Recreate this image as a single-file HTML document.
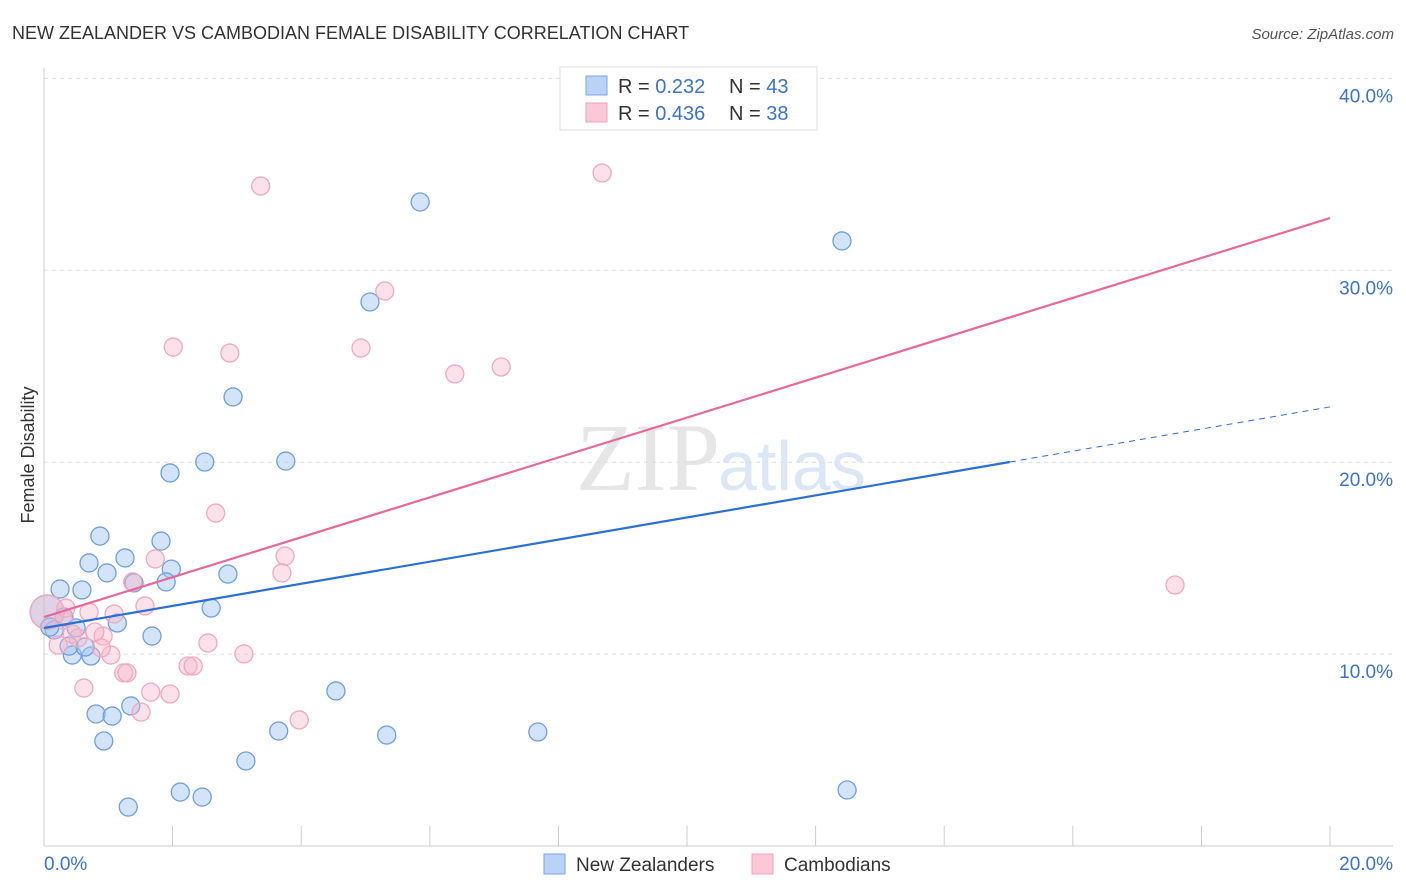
<!DOCTYPE html>
<html><head><meta charset="utf-8"><style>
body{margin:0;background:#fff;font-family:"Liberation Sans",sans-serif;}
svg{display:block}
</style></head><body>
<svg id="chart" width="1406" height="892" xmlns="http://www.w3.org/2000/svg">
<text x="12" y="39" font-size="18" fill="#333">NEW ZEALANDER VS CAMBODIAN FEMALE DISABILITY CORRELATION CHART</text>
<text x="1394" y="39" font-size="15" fill="#555" font-style="italic" text-anchor="end">Source: ZipAtlas.com</text>
<text x="720" y="490" font-size="96" fill="#e6e6e6" text-anchor="end" font-family="Liberation Serif">ZIP</text>
<text x="718" y="490" font-size="70" fill="#dce7f5">atlas</text>
<g id="grid"></g>
<g id="axes"></g>
<g id="points"></g>
<g id="trends"></g>
<text transform="translate(34,455) rotate(-90)" font-size="18" fill="#333" text-anchor="middle">Female Disability</text>
<g>
<rect x="560" y="67" width="257" height="63" fill="#fff" stroke="#ddd"/>
<rect x="586" y="76" width="21" height="19" fill="#b9d2f5" stroke="#7aa6e6"/>
<rect x="586" y="103" width="21" height="19" fill="#fac8d6" stroke="#f0a0b8"/>
<text x="618" y="93" font-size="20" fill="#333">R = <tspan fill="#3a72d0">0.232</tspan></text>
<text x="729" y="93" font-size="20" fill="#333">N = <tspan fill="#3a72d0">43</tspan></text>
<text x="618" y="120" font-size="20" fill="#333">R = <tspan fill="#3a72d0">0.436</tspan></text>
<text x="729" y="120" font-size="20" fill="#333">N = <tspan fill="#3a72d0">38</tspan></text>
</g>
<g>
<rect x="544" y="854" width="21" height="20" fill="#b9d2f5" stroke="#7aa6e6"/>
<text x="576" y="871" font-size="19" fill="#333">New Zealanders</text>
<rect x="752" y="854" width="21" height="20" fill="#fac8d6" stroke="#f0a0b8"/>
<text x="784" y="871" font-size="19" fill="#333">Cambodians</text>
</g>
</svg>
<script>
const yTicks=[10,20,30,40];
const yTickLabels=["10.0%","20.0%","30.0%","40.0%"];
const xTickLabels=["0.0%","20.0%"];
const blueX=[0.05,0.25,0.59,0.70,0.87,0.98,1.26,1.82,1.96,1.98,1.90,1.40,1.14,1.68,2.60,2.86,2.50,2.94,3.76,5.07,5.85,12.41,4.54,3.65,5.33,7.68,3.14,2.12,2.46,1.31,12.49,0.81,1.06,1.35,0.93,0.31,0.50,0.16,0.44,0.73,0.39,0.64,0.09];
const blueY=[12.19,13.39,13.34,14.75,16.15,14.23,15.01,15.89,19.44,14.43,13.76,13.71,11.62,10.94,12.40,14.17,20.01,23.40,20.06,28.35,33.56,31.53,8.08,5.99,5.78,5.94,4.43,2.81,2.55,2.03,2.92,6.88,6.77,7.30,5.47,11.93,11.36,11.26,9.95,9.90,10.42,10.37,11.41];
const pinkX=[3.37,8.68,5.30,2.01,2.89,4.93,6.39,7.11,2.67,1.73,3.75,3.70,1.38,1.57,1.09,0.70,17.59,2.55,3.11,2.24,2.32,1.24,1.29,0.62,1.66,1.96,1.51,3.97,0.92,1.04,0.89,0.44,0.22,0.30,0.79,0.05,0.34,0.53];
const pinkY=[34.39,35.07,28.92,26.00,25.69,25.95,24.60,24.96,17.35,14.96,15.11,14.23,13.76,12.51,12.09,12.19,13.60,10.58,10.01,9.38,9.38,9.02,9.02,8.23,8.02,7.92,6.98,6.57,10.94,9.95,10.32,11.05,10.47,11.78,11.15,12.19,12.40,10.84];
const blueTrend=[11.36,22.88]; // value at x=0 and x=20
const blueSolidEnd=15.02;
const pinkTrend=[11.93,32.72];

const NS="http://www.w3.org/2000/svg";
const X=v=>44+v*64.3, Y=v=>846-v*19.19;
function mk(tag,attrs,parent){const e=document.createElementNS(NS,tag);for(const k in attrs)e.setAttribute(k,attrs[k]);document.getElementById(parent).appendChild(e);return e;}
yTicks.forEach((t,i)=>{
  const l=mk('line',{x1:44,x2:1393,y1:Y(t),y2:Y(t),stroke:'#ddd','stroke-dasharray':'4,4'},'grid');
  
  
  const tx=mk('text',{x:1393,y:Y(t)+24,'font-size':19,fill:'#3a72d0','text-anchor':'end'},'grid');
  tx.textContent=yTickLabels[i];
  
  
});
const ax=mk('line',{x1:44,x2:44,y1:68,y2:846,stroke:'#ccc'},'axes');


const bx=mk('line',{x1:44,x2:1393,y1:846,y2:846,stroke:'#ccc'},'axes');


for(let i=1;i<=10;i++){
  const t=mk('line',{x1:X(i*2),x2:X(i*2),y1:826,y2:846,stroke:'#ccc'},'axes');
  
  
}
[[0,'start',44],[20,'end',1393]].forEach((d,i)=>{
  const tx=mk('text',{x:d[2],y:870,'font-size':19,fill:'#3a72d0','text-anchor':d[1]},'axes');
  tx.textContent=xTickLabels[i];
  
  
});
blueX.forEach((x,i)=>{
  const c=mk('circle',{cx:X(x),cy:Y(blueY[i]),r:i===0?17:9,fill:'rgba(160,195,240,0.45)',stroke:'#6f9fe0','stroke-width':1.3},'points');
  
  
});
pinkX.forEach((x,i)=>{
  const c=mk('circle',{cx:X(x),cy:Y(pinkY[i]),r:i===35?17:9,fill:'rgba(246,180,200,0.4)',stroke:'#f0a8bf','stroke-width':1.3},'points');
  
  
});
const bAt=v=>blueTrend[0]+(blueTrend[1]-blueTrend[0])*v/20;
let l=mk('line',{x1:X(0),y1:Y(bAt(0)),x2:X(blueSolidEnd),y2:Y(bAt(blueSolidEnd)),stroke:'#2a6fd6','stroke-width':2.2},'trends');


l=mk('line',{x1:X(blueSolidEnd),y1:Y(bAt(blueSolidEnd)),x2:X(20),y2:Y(bAt(20)),stroke:'#2a6fd6','stroke-width':1,'stroke-dasharray':'6,5'},'trends');


l=mk('line',{x1:X(0),y1:Y(pinkTrend[0]),x2:X(20),y2:Y(pinkTrend[1]),stroke:'#e8689a','stroke-width':2.2},'trends');


</script>
</body></html>
